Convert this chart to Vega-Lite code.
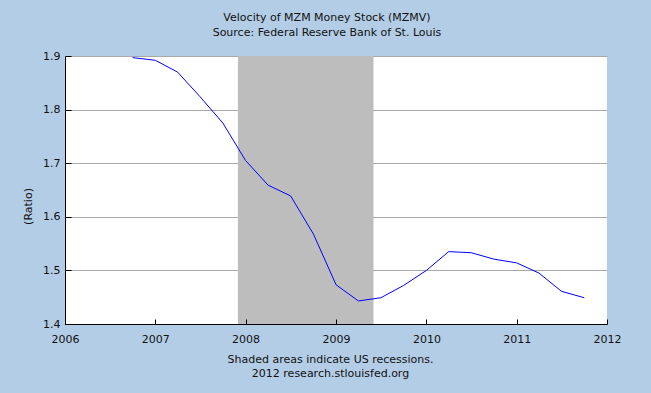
{
  "$schema": "https://vega.github.io/schema/vega-lite/v6.json",
  "width": 542,
  "height": 268,
  "autosize": {"type": "none"},
  "padding": {"left": 65, "top": 56, "right": 44, "bottom": 69},
  "background": "#B4CDE6",
  "title": {
    "text": "Velocity of MZM Money Stock (MZMV)",
    "subtitle": "Source: Federal Reserve Bank of St. Louis",
    "font": "DejaVu Sans",
    "fontSize": 11,
    "fontWeight": "normal",
    "color": "#111111",
    "subtitleFont": "DejaVu Sans",
    "subtitleFontSize": 11,
    "subtitleColor": "#111111",
    "subtitlePadding": 4,
    "offset": 12,
    "dx": -9
  },
  "config": {
    "view": {"fill": "white", "stroke": null},
    "axis": {
      "labelFont": "DejaVu Sans",
      "labelFontSize": 11,
      "labelColor": "#111111",
      "titleFont": "DejaVu Sans",
      "titleFontSize": 11,
      "titleFontWeight": "normal",
      "titleColor": "#111111",
      "domainColor": "#000000",
      "tickColor": "#000000",
      "domainWidth": 1,
      "tickWidth": 1
    }
  },
  "datasets": {
    "series": [
      {"date": "2006-10-01", "value": 1.897},
      {"date": "2007-01-01", "value": 1.892},
      {"date": "2007-04-01", "value": 1.870},
      {"date": "2007-07-01", "value": 1.824},
      {"date": "2007-10-01", "value": 1.775},
      {"date": "2008-01-01", "value": 1.705},
      {"date": "2008-04-01", "value": 1.659},
      {"date": "2008-07-01", "value": 1.639},
      {"date": "2008-10-01", "value": 1.568},
      {"date": "2009-01-01", "value": 1.473},
      {"date": "2009-04-01", "value": 1.443},
      {"date": "2009-07-01", "value": 1.449},
      {"date": "2009-10-01", "value": 1.472},
      {"date": "2010-01-01", "value": 1.500},
      {"date": "2010-04-01", "value": 1.535},
      {"date": "2010-07-01", "value": 1.533},
      {"date": "2010-10-01", "value": 1.521},
      {"date": "2011-01-01", "value": 1.514},
      {"date": "2011-04-01", "value": 1.495},
      {"date": "2011-07-01", "value": 1.461},
      {"date": "2011-10-01", "value": 1.449}
    ],
    "recessions": [
      {"start": "2007-12-01", "end": "2009-06-01"}
    ]
  },
  "layer": [
    {
      "data": {"name": "recessions"},
      "mark": {"type": "rect", "color": "#BDBDBD"},
      "encoding": {
        "x": {
          "field": "start",
          "type": "temporal",
          "scale": {"domain": ["2006-01-01", "2012-01-01"]},
          "axis": {
            "title": ["Shaded areas indicate US recessions.", "2012 research.stlouisfed.org"],
            "titleLineHeight": 14,
            "titlePadding": 9,
            "titleX": 265,
            "format": "%Y",
            "tickCount": {"interval": "year", "step": 1},
            "labelAngle": 0,
            "labelPadding": 14,
            "labelFlush": false,
            "tickSize": -5,
            "grid": false,
            "zindex": 1
          }
        },
        "x2": {"field": "end"}
      }
    },
    {
      "data": {"name": "series"},
      "mark": {"type": "line", "color": "#0000FF", "strokeWidth": 1, "clip": true},
      "encoding": {
        "x": {"field": "date", "type": "temporal"},
        "y": {
          "field": "value",
          "type": "quantitative",
          "scale": {"domain": [1.4, 1.9], "nice": false, "zero": false},
          "axis": {
            "title": "(Ratio)",
            "titleX": -37,
            "titleY": 150,
            "titleBaseline": "middle",
            "values": [1.4, 1.5, 1.6, 1.7, 1.8, 1.9],
            "format": ".1f",
            "tickSize": -6,
            "labelPadding": 11,
            "gridColor": "#A8A8A8",
            "gridWidth": 1
          }
        }
      }
    }
  ]
}
